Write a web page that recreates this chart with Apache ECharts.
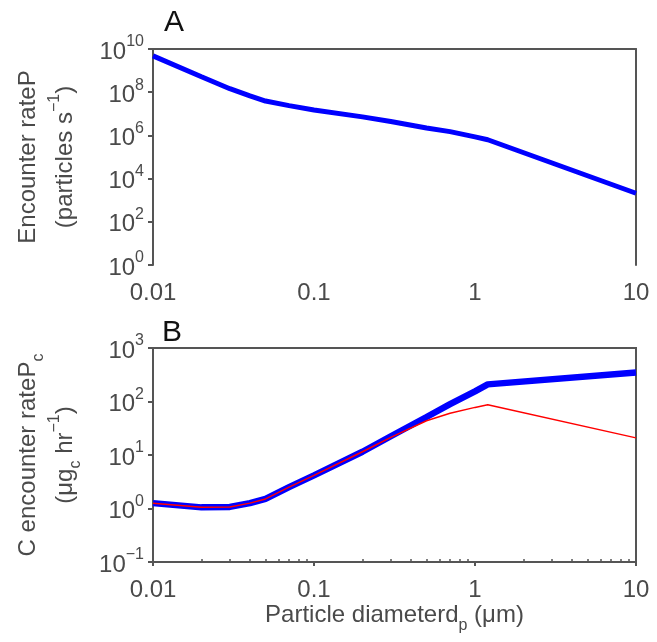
<!DOCTYPE html>
<html>
<head>
<meta charset="utf-8">
<script src="https://cdn.jsdelivr.net/npm/echarts@6/dist/echarts.min.js"></script>
<style>
  html, body { margin: 0; padding: 0; background: #fff; }
  #chart { width: 657px; height: 642px; }
</style>
</head>
<body>
<div id="chart"></div>
<script>
// Particle diameter d_p (µm)
const diameters = [0.01, 0.02, 0.03, 0.04, 0.05, 0.07, 0.1, 0.2, 0.3, 0.5, 0.7, 1, 1.2, 10];
// Panel A: particle encounter rate P (particles s^-1)
const encounterRate = [4.8e9, 5.2e8, 1.45e8, 6.8e7, 3.9e7, 2.4e7, 1.5e7, 7.2e6, 4.4e6, 2.2e6, 1.5e6, 8.5e5, 6.3e5, 2.1e3];
// Panel B: carbon encounter rate P_c (µg_c hr^-1), total (blue) and reduced (red)
const carbonRateTotal = [1.26, 1.05, 1.07, 1.26, 1.51, 2.51, 4.17, 11.5, 22.4, 51.3, 89.1, 155, 209, 347];
const carbonRateReduced = [1.26, 1.05, 1.07, 1.26, 1.51, 2.51, 4.17, 11.5, 21.4, 43.7, 60.3, 77.6, 87.1, 20.9];

// Tick values
const xMajorTicks = [0.01, 0.1, 1, 10];
const xMinorTicks = [0.02, 0.03, 0.04, 0.05, 0.06, 0.07, 0.08, 0.09,
                     0.2, 0.3, 0.4, 0.5, 0.6, 0.7, 0.8, 0.9,
                     2, 3, 4, 5, 6, 7, 8, 9];
const yTicksA = [1, 1e2, 1e4, 1e6, 1e8, 1e10];
const yTicksB = [0.1, 1, 10, 100, 1000];

const FONT = '"Liberation Sans", Arial, Helvetica, sans-serif';
const AXIS_GREY = '#555555';
const TEXT_GREY = '#4a4a4a';

const pairs = (xs, ys) => xs.map((x, i) => [x, ys[i]]);

function powerLabel(v) {
  const e = Math.round(Math.log10(v));
  return '{b|10}{s|' + String(e).replace('-', '\u2212') + '}';
}

const powerRich = {
  b: { fontSize: 24, fontFamily: FONT, color: TEXT_GREY, lineHeight: 30, verticalAlign: 'bottom' },
  s: { fontSize: 16, fontFamily: FONT, color: TEXT_GREY, lineHeight: 13, verticalAlign: 'top' }
};

function xMajorAxis(gridIndex, withLine) {
  return {
    gridIndex, type: 'log', logBase: 10, min: 0.01, max: 10, position: 'bottom',
    axisLine: { show: withLine, lineStyle: { color: AXIS_GREY, width: 2 } },
    axisTick: { show: withLine, customValues: xMajorTicks, length: 4, lineStyle: { color: AXIS_GREY, width: 2 } },
    axisLabel: {
      show: true, customValues: xMajorTicks, margin: 16,
      fontSize: 24, fontFamily: FONT, color: TEXT_GREY,
      formatter: v => String(+v.toPrecision(3))
    },
    splitLine: { show: false }, minorTick: { show: false }
  };
}

function xMinorAxis(gridIndex) {
  return {
    gridIndex, type: 'log', logBase: 10, min: 0.01, max: 10, position: 'bottom',
    axisLine: { show: false },
    axisTick: { show: true, inside: true, customValues: xMinorTicks, length: 3, lineStyle: { color: AXIS_GREY, width: 1.5 } },
    axisLabel: { show: false },
    splitLine: { show: false }
  };
}

// Plain frame line (top / right edge of the upper panel)
function frameAxis(gridIndex, position, isX, min, max) {
  return {
    gridIndex, type: 'log', logBase: 10, min, max, position,
    axisLine: { show: true, lineStyle: { color: AXIS_GREY, width: 2 } },
    axisTick: { show: false }, axisLabel: { show: false },
    splitLine: { show: false }
  };
}

function yAxis(gridIndex, min, max, ticks, name, nameGap, nameRich) {
  return {
    gridIndex, type: 'log', logBase: 10, min, max, position: 'left',
    axisLine: { show: true, lineStyle: { color: AXIS_GREY, width: 2 } },
    axisTick: { show: true, customValues: ticks, length: 5, lineStyle: { color: AXIS_GREY, width: 2 } },
    axisLabel: { show: true, customValues: ticks, margin: 9, formatter: powerLabel, rich: powerRich },
    splitLine: { show: false }, minorTick: { show: false },
    name, nameLocation: 'middle', nameRotate: 90, nameGap,
    nameTextStyle: { fontSize: 24, fontFamily: FONT, color: TEXT_GREY, lineHeight: 37, align: 'center', rich: nameRich }
  };
}

const nameRichBase = { fontSize: 24, fontFamily: FONT, color: TEXT_GREY, lineHeight: 37 };
const richA = {
  t: nameRichBase,
  sup: { fontSize: 16, fontFamily: FONT, color: TEXT_GREY, lineHeight: 22, verticalAlign: 'top' }
};
const richB = {
  t: nameRichBase,
  sub: { fontSize: 16, fontFamily: FONT, color: TEXT_GREY, lineHeight: 22, verticalAlign: 'bottom' },
  sup: { fontSize: 16, fontFamily: FONT, color: TEXT_GREY, lineHeight: 22, verticalAlign: 'top' }
};

const chart = echarts.init(document.getElementById('chart'), null, { renderer: 'canvas' });

chart.setOption({
  animation: false,
  backgroundColor: '#ffffff',
  grid: [
    { left: 153, right: 21, top: 49, height: 216, show: false, outerBoundsMode: 'none', containLabel: false },
    { left: 153, right: 21, top: 348, height: 214, show: true, borderColor: AXIS_GREY, borderWidth: 2, outerBoundsMode: 'none', containLabel: false }
  ],
  xAxis: [
    xMajorAxis(0, false),
    Object.assign(xMajorAxis(1, true), {
      name: '{t|Particle diameter}{t|d}{sub|p}{t| (\u03bcm)}',
      nameLocation: 'middle', nameGap: 34,
      nameTextStyle: { fontSize: 24, fontFamily: FONT, color: TEXT_GREY, rich: richB }
    }),
    xMinorAxis(1),
    frameAxis(0, 'top', true, 0.01, 10)
  ],
  yAxis: [
    yAxis(0, 1, 1e10, yTicksA,
      '{t|Encounter rateP}\n{t|(particles s}{sup|\u22121}{t|)}', 69, richA),
    yAxis(1, 0.1, 1000, yTicksB,
      '{t|C encounter rateP}{sub|c}\n{t|(\u03bcg}{sub|c}{t| hr}{sup|\u22121}{t|)}', 69, richB),
    frameAxis(0, 'right', false, 1, 1e10)
  ],
  graphic: [
    { type: 'text', left: 164, top: 8, style: { text: 'A', font: '30px ' + FONT, fill: '#111' } },
    { type: 'text', left: 162, top: 318, style: { text: 'B', font: '30px ' + FONT, fill: '#111' } }
  ],
  series: [
    {
      type: 'line', xAxisIndex: 0, yAxisIndex: 0,
      data: pairs(diameters, encounterRate),
      showSymbol: false, symbol: 'none',
      lineStyle: { color: '#0000ff', width: 5 }, itemStyle: { color: '#0000ff' }
    },
    {
      type: 'line', xAxisIndex: 1, yAxisIndex: 1,
      data: pairs(diameters, carbonRateTotal),
      showSymbol: false, symbol: 'none',
      lineStyle: { color: '#0000ff', width: 6.5 }, itemStyle: { color: '#0000ff' }
    },
    {
      type: 'line', xAxisIndex: 1, yAxisIndex: 1,
      data: pairs(diameters, carbonRateReduced),
      showSymbol: false, symbol: 'none',
      lineStyle: { color: '#ff0000', width: 1.5 }, itemStyle: { color: '#ff0000' }
    }
  ]
});
</script>
</body>
</html>
